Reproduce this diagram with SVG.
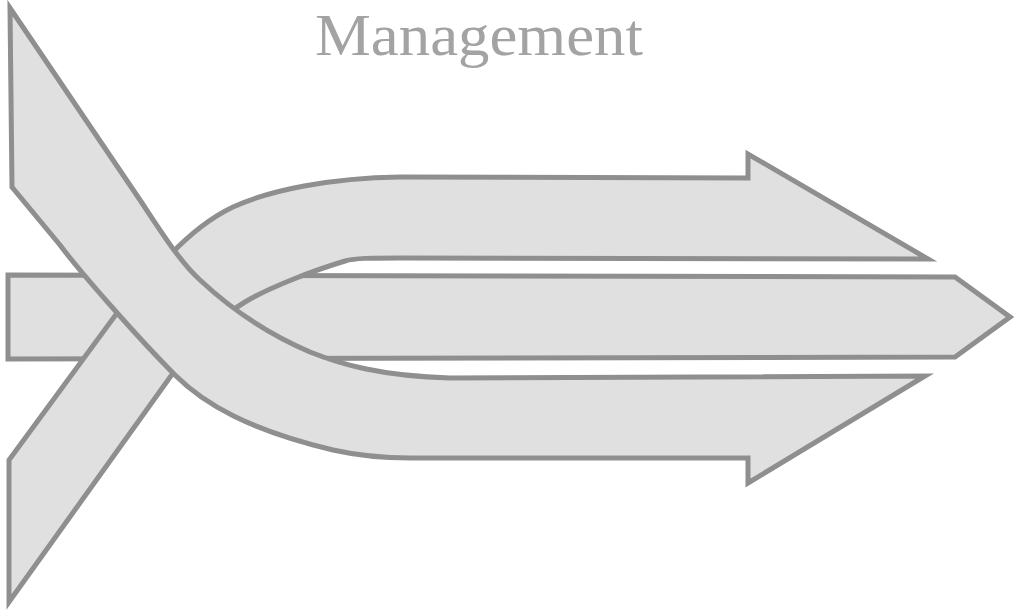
<svg xmlns="http://www.w3.org/2000/svg" width="1014" height="611" viewBox="0 0 1014 611">
  <style>
    .band { fill: #e0e0e0; stroke: #8f8f8f; stroke-width: 5; stroke-linejoin: miter; stroke-miterlimit: 10; }
    .title { font-family: "Liberation Serif", "Times New Roman", serif; font-size: 60px; fill: #a3a3a3; }
  </style>
  <rect width="1014" height="611" fill="#ffffff"/>
  <g id="title">
    <text class="title" x="315" y="55" textLength="328" lengthAdjust="spacingAndGlyphs">Management</text>
  </g>
  <g id="connectors">
    <g id="arrow-middle">
      <path class="band" d="M 8,275 L 955,277 L 1010,317 L 955,357 L 8,359 Z"/>
    </g>
    <g id="arrow-top">
      <path class="band" d="M 9,460 L 9,602 L 173,373 C 200,342 215,320 245,302 C 270,287 315,270 345,261 C 355,258 370,258 400,258 L 928,259 L 748,154 L 748,178 L 400,177 C 330,178 270,190 233,207 C 210,218 190,234 170,255 L 117,313 Z"/>
    </g>
    <g id="arrow-bottom">
      <path class="band" d="M 10,8 L 140,200 C 160,230 180,262 200,280 C 230,308 265,333 310,352 C 340,364 380,376 450,378 L 925,376 L 748,483 L 748,458 L 410,458 C 380,458 360,456 333,450 C 250,430 205,405 175,375 C 140,340 80,272 60,245 L 12,187 Z"/>
    </g>
  </g>
</svg>
